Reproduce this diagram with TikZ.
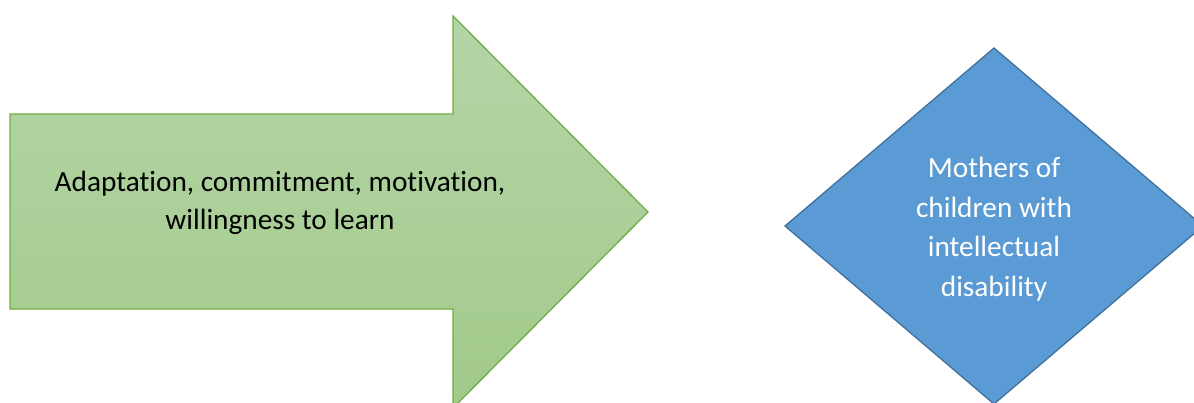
\documentclass[tikz,border=0pt]{standalone}
\usepackage{fontspec}
\setmainfont{Carlito}[RawFeature={-liga;-calt;-clig}]
\definecolor{arrowtop}{HTML}{B4D5A7}
\definecolor{arrowbot}{HTML}{A2CA8A}
\definecolor{arrowline}{HTML}{70AD47}
\definecolor{dfill}{HTML}{5B9BD5}
\definecolor{dline}{HTML}{41719C}
\begin{document}
\begin{tikzpicture}[x=1pt,y=-1pt,
  lbl/.style={align=center,font=\fontsize{29.3}{38}\selectfont,inner sep=0pt}]
\useasboundingbox (0,0) rectangle (1194,402);
\begin{scope}
\clip (0,0) rectangle (1194,402);
\draw[arrowline,line width=1.3pt,top color=arrowtop,bottom color=arrowbot]
  (10,114) -- (453,114) -- (453,16) -- (648,212) -- (453,408) -- (453,309) -- (10,309) -- cycle;
\draw[dline,line width=1.3pt,fill=dfill]
  (994,48) -- (1203,226) -- (994,404) -- (785,226) -- cycle;
\end{scope}
\node[lbl,text=black] (arrowtext) at (280,203) {Adaptation, commitment, motivation,\\willingness to learn};
\node[lbl,text=white,font=\fontsize{29.3}{39.5}\selectfont] (diamondtext) at (994,229) {Mothers of\\children with\\intellectual\\disability};
\end{tikzpicture}
\end{document}
